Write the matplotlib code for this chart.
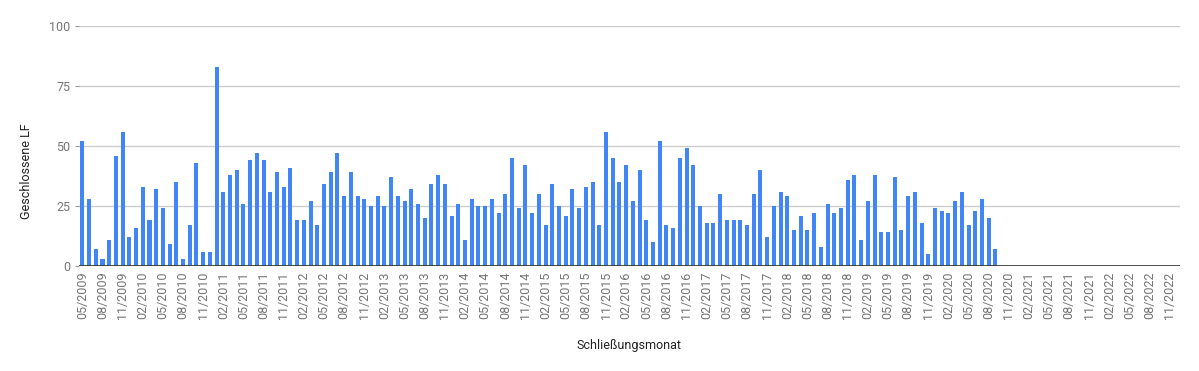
import pandas as pd
import matplotlib.pyplot as plt

plt.rcParams['font.family'] = ['Roboto', 'DejaVu Sans']

# monthly closed counts, 05/2009 .. 09/2020 (months after that have no data)
values = [52, 28, 7, 3, 11, 46, 56, 12, 16, 33, 19, 32, 24, 9, 35, 3, 17, 43, 6, 6,
          83, 31, 38, 40, 26, 44, 47, 44, 31, 39, 33, 41, 19, 19, 27, 17, 34, 39, 47, 29,
          39, 29, 28, 25, 29, 25, 37, 29, 27, 32, 26, 20, 34, 38, 34, 21, 26, 11, 28, 25,
          25, 28, 22, 30, 45, 24, 42, 22, 30, 17, 34, 25, 21, 32, 24, 33, 35, 17, 56, 45,
          35, 42, 27, 40, 19, 10, 52, 17, 16, 45, 49, 42, 25, 18, 18, 30, 19, 19, 19, 17,
          30, 40, 12, 25, 31, 29, 15, 21, 15, 22, 8, 26, 22, 24, 36, 38, 11, 27, 38, 14,
          14, 37, 15, 29, 31, 18, 5, 24, 23, 22, 27, 31, 17, 23, 28, 20, 7]

months = pd.period_range('2009-05', '2022-12', freq='M')
labels = [m.strftime('%m/%Y') for m in months]
counts = values + [0] * (len(months) - len(values))

df = pd.DataFrame({'month': labels, 'count': counts})

fig = plt.figure(figsize=(11.99, 3.71), dpi=100)
ax = fig.add_axes([79 / 1199, 105 / 371, 1101 / 1199, 240 / 371])

x = range(len(df))
ax.bar(x, df['count'], width=0.6, color='#4285F4', zorder=3)

ax.set_xlim(-0.5, len(df) - 0.5)
ax.set_ylim(0, 100)
ax.set_yticks([0, 25, 50, 75, 100])
ax.grid(axis='y', color='#cccccc', linewidth=1, zorder=0)
ax.axhline(0, color='#333333', linewidth=1.2, zorder=4)

ax.set_xticks(list(x)[::3])
ax.set_xticklabels(df['month'][::3], rotation=90)
ax.tick_params(axis='x', length=0, pad=4, labelsize=9, labelcolor='#757575')
ax.tick_params(axis='y', length=3, color='#999999', pad=3, labelsize=9, labelcolor='#757575')

for s in ax.spines.values():
    s.set_visible(False)

fig.text(27 / 1199, 1 - 171 / 371, 'Geschlossene LF', rotation=90, ha='center', va='center',
         fontsize=9, color='#222222')
fig.text(629 / 1199, 1 - 345 / 371, 'Schließungsmonat', ha='center', va='center',
         fontsize=9, color='#222222')

fig.savefig('out.png', dpi=100)
